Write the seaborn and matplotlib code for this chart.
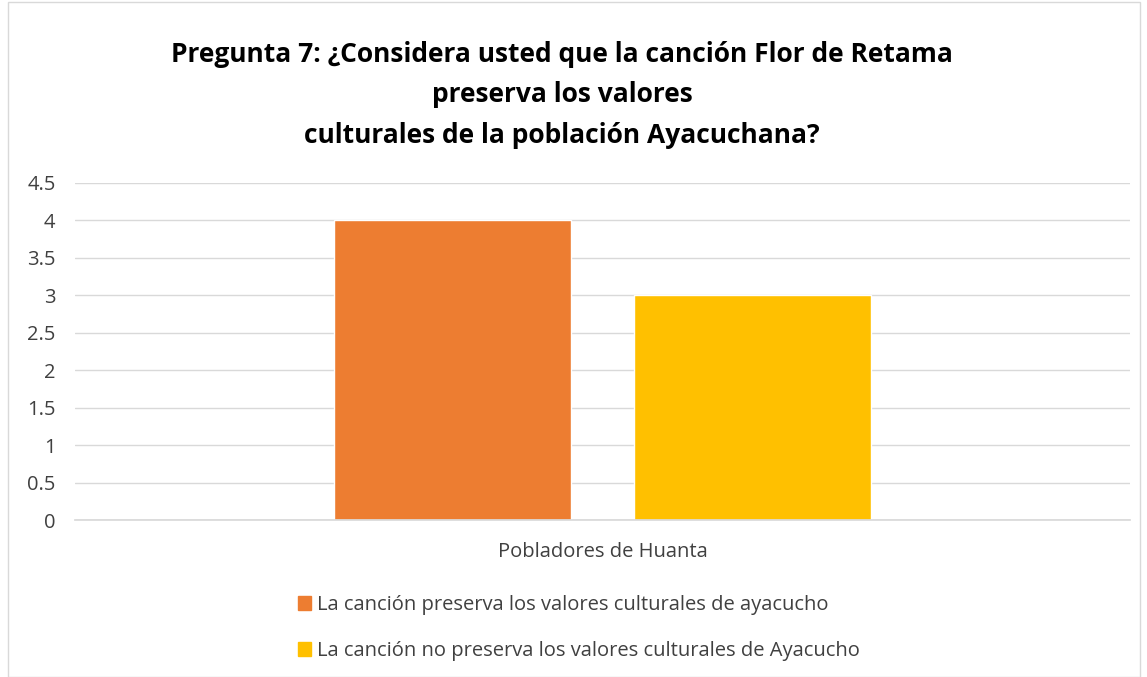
import matplotlib
matplotlib.use("Agg")
import matplotlib.pyplot as plt
import seaborn as sns
import pandas as pd
from matplotlib.patches import Rectangle

categories = ["Pobladores de Huanta"]
series = ["La canción preserva los valores culturales de ayacucho",
          "La canción no preserva los valores culturales de Ayacucho"]
values = [4, 3]
colors = ["#ED7D31", "#FFC000"]
yticks = [0, 0.5, 1, 1.5, 2, 2.5, 3, 3.5, 4, 4.5]
title = ("Pregunta 7: ¿Considera usted que la canción Flor de Retama\n"
         "preserva los valores\nculturales de la población Ayacuchana?")

df = pd.DataFrame({"cat": categories * len(series), "serie": series, "val": values})

sns.set_theme(style="white")
plt.rcParams['font.family'] = ['Open Sans', 'DejaVu Sans']

fig = plt.figure(figsize=(11.47, 6.77), dpi=100)
ax = fig.add_axes([75/1147, 1-520/677, (1130-75)/1147, (520-183)/677])

sns.barplot(data=df, x="cat", y="val", hue="serie", palette=colors,
            width=0.5687, gap=0.213, ax=ax, legend=False, saturation=1)

ax.set_xlim(-0.5, 0.5)
ax.set_ylim(0, 4.5)
ax.set_yticks(yticks)
ax.set_yticklabels([f"{t:g}" for t in yticks], fontsize=14.5, color="#404040")
ax.tick_params(axis="y", length=0, pad=14)
ax.tick_params(axis="x", length=0, pad=16, labelsize=14.5, labelcolor="#404040")
ax.set_xlabel("")
ax.set_ylabel("")
ax.grid(axis="y", color="#D9D9D9", linewidth=1)
ax.set_axisbelow(True)
for s in ["top", "right", "left"]:
    ax.spines[s].set_visible(False)
ax.spines["bottom"].set_color("#D9D9D9")

fig.text(0.490, 1-95/677, title, ha="center", va="center", fontsize=19,
         fontweight="bold", color="black", linespacing=1.62)

# legend
handles = [Rectangle((0, 0), 1, 1, color=c) for c in colors]
leg = fig.legend(handles, series, loc="center", bbox_to_anchor=(0.505, 1-628/677),
                 ncol=1, frameon=False, fontsize=14.5, handlelength=0.65,
                 handleheight=0.65, handletextpad=0.3, labelspacing=1.3)
for t in leg.get_texts():
    t.set_color("#404040")

# chart border
fig.patches.append(Rectangle((8/1147, 0), 1132/1147, 1 - 2/677, transform=fig.transFigure,
                             fill=False, edgecolor="#D9D9D9", linewidth=1))

fig.savefig("out.png", dpi=100)
